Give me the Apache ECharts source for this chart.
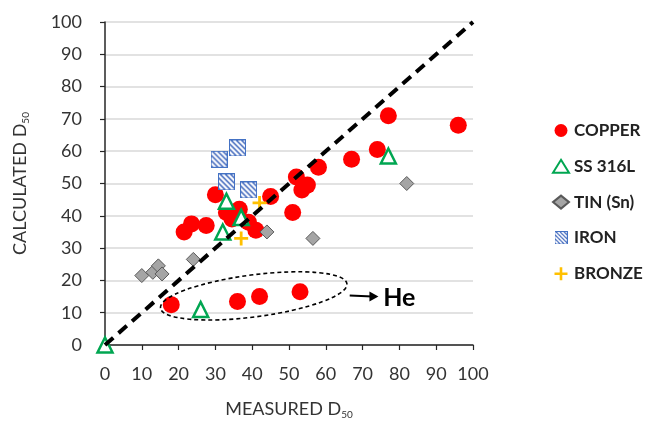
<!DOCTYPE html>
<html>
<head>
<meta charset="utf-8">
<script src="https://cdn.jsdelivr.net/npm/echarts@6/dist/echarts.min.js"></script>
<style>
html,body{margin:0;padding:0;background:#fff;}
#main{width:661px;height:422px;}
</style>
</head>
<body>
<div id="main"></div>
<script>
// ---- data (measured D50, calculated D50) ----
const copper = [
  [18, 12.5], [36, 13.5], [42, 15], [53, 16.5],
  [21.5, 35], [23.5, 37.5], [27.5, 37], [30, 46.5],
  [33, 41], [34.5, 39], [36.5, 42], [39, 38], [41, 35.5],
  [45, 46], [51, 41], [52, 52], [53.5, 48], [55, 49.5],
  [58, 55], [67, 57.5], [74, 60.5], [77, 71], [96, 68]
];
const ss316L = [[0, 0], [26, 11], [32, 35], [33, 44.5], [37, 39.5], [77, 58.5]];
const tin = [[10, 21.5], [13, 22.5], [14.5, 24.5], [15.5, 22], [24, 26.5], [44, 35], [56.5, 33], [82, 50]];
const iron = [[31, 57.5], [36, 61], [33, 50.5], [39, 48]];
const bronze = [[37, 33], [42, 44]];
const parity = [[0, 0], [100, 100]];
const seriesNames = ['COPPER', 'SS 316L', 'TIN (Sn)', 'IRON', 'BRONZE'];

// hatched square symbol for IRON (drawn once as an image symbol, 2x resolution)
function hatchSymbol(size) {
  const cv = document.createElement('canvas');
  cv.width = size; cv.height = size;
  const g = cv.getContext('2d');
  g.fillStyle = '#4a6fc0';
  g.fillRect(0, 0, size, size);
  g.save();
  g.beginPath(); g.rect(2, 2, size - 4, size - 4); g.clip();
  g.strokeStyle = '#ffffff';
  g.lineWidth = 4.2;
  for (let x0 = -size; x0 <= size; x0 += 10.5) {
    g.beginPath(); g.moveTo(x0, 0); g.lineTo(x0 + size, size); g.stroke();
  }
  g.restore();
  g.strokeStyle = '#4472c4';
  g.lineWidth = 2;
  g.strokeRect(1, 1, size - 2, size - 2);
  return 'image://' + cv.toDataURL();
}
const ironSymbol = hatchSymbol(34);

const FONT = 'Lato';
const chart = echarts.init(document.getElementById('main'));
const axisName = { fontFamily: FONT, fontSize: 18, color: '#333', lineHeight: 22,
  rich: { sub: { fontFamily: FONT, fontSize: 10, color: '#333', lineHeight: 10, verticalAlign: 'bottom' } } };

chart.setOption({
  animation: false,
  grid: { left: 105, right: 188, top: 22, bottom: 77, containLabel: false, outerBoundsMode: 'none' },
  xAxis: {
    type: 'value', min: 0, max: 100, interval: 10,
    name: 'MEASURED D{sub|50}', nameLocation: 'middle', nameGap: 53,
    nameTextStyle: axisName,
    axisLine: { show: true, lineStyle: { color: '#262626', width: 1.5 } },
    axisTick: { show: true, length: 5, lineStyle: { color: '#262626', width: 1.2 } },
    axisLabel: { margin: 20, fontFamily: FONT, fontSize: 18, color: '#333' },
    splitLine: { show: false }
  },
  yAxis: {
    type: 'value', min: 0, max: 100, interval: 10,
    name: 'CALCULATED D{sub|50}', nameLocation: 'middle', nameGap: 74,
    nameTextStyle: axisName,
    axisLine: { show: true, lineStyle: { color: '#262626', width: 1.5 } },
    axisTick: { show: true, length: 5, lineStyle: { color: '#262626', width: 1.2 } },
    axisLabel: { margin: 23, fontFamily: FONT, fontSize: 18, color: '#333' },
    splitLine: { show: true, lineStyle: { color: '#d9d9d9', width: 1.5 } }
  },
  legend: {
    orient: 'vertical', left: 547, top: 117, itemGap: 18.8,
    itemWidth: 16, itemHeight: 13,
    data: seriesNames,
    textStyle: { fontFamily: FONT, fontWeight: 'bold', fontSize: 17, color: '#222', lineHeight: 16 }
  },
  series: [
    { name: 'COPPER', type: 'scatter', data: copper, symbol: 'circle', symbolSize: 17,
      itemStyle: { color: '#ff0000', opacity: 1 }, z: 2 },
    { name: 'TIN (Sn)', type: 'scatter', data: tin, symbol: 'diamond', symbolSize: 14,
      itemStyle: { color: '#a5a5a5', borderColor: '#595959', borderWidth: 1, opacity: 1 }, z: 3 },
    { name: 'SS 316L', type: 'scatter', data: ss316L, symbol: 'triangle', symbolSize: 15,
      itemStyle: { color: '#ffffff', borderColor: '#00a651', borderWidth: 2.5, opacity: 1 }, z: 4 },
    { name: 'IRON', type: 'scatter', data: iron, symbol: ironSymbol, symbolSize: 17,
      itemStyle: { color: '#4f74c4', opacity: 1 }, z: 5 },
    { name: 'BRONZE', type: 'scatter', data: bronze, symbol: 'path://M4,0H6V4H10V6H6V10H4V6H0V4H4Z', symbolSize: 14,
      itemStyle: { color: '#ffc000', opacity: 1 }, z: 6 },
    { name: 'parity', type: 'line', data: parity, symbol: 'none', z: 10,
      lineStyle: { color: '#000', width: 4, type: [11, 7] } }
  ]
});

// He annotation (ellipse, arrow, label)
const c = chart.convertToPixel({ gridIndex: 0 }, [40.4, 15.2]);
const a0 = chart.convertToPixel({ gridIndex: 0 }, [66.5, 15.3]);
const a1 = chart.convertToPixel({ gridIndex: 0 }, [74.3, 15.0]);
const t = chart.convertToPixel({ gridIndex: 0 }, [75.6, 14.6]);
chart.setOption({
  graphic: [
    { type: 'ellipse', x: c[0], y: c[1], rotation: 0.13, z: 20,
      shape: { cx: 0, cy: 0, rx: 94, ry: 21 },
      style: { fill: 'none', stroke: '#000', lineWidth: 1.6, lineDash: [4, 3] } },
    { type: 'line', z: 20, shape: { x1: a0[0], y1: a0[1], x2: a1[0] - 6, y2: a1[1] },
      style: { stroke: '#000', lineWidth: 2 } },
    { type: 'polygon', z: 20,
      shape: { points: [[a1[0], a1[1]], [a1[0] - 9, a1[1] - 5], [a1[0] - 9, a1[1] + 5]] },
      style: { fill: '#000' } },
    { type: 'text', x: t[0], y: t[1], z: 20,
      style: { text: 'He', fontFamily: FONT, fontWeight: 'bold', fontSize: 25, fill: '#000',
        textAlign: 'left', textVerticalAlign: 'middle' } }
  ]
});
</script>
</body>
</html>
